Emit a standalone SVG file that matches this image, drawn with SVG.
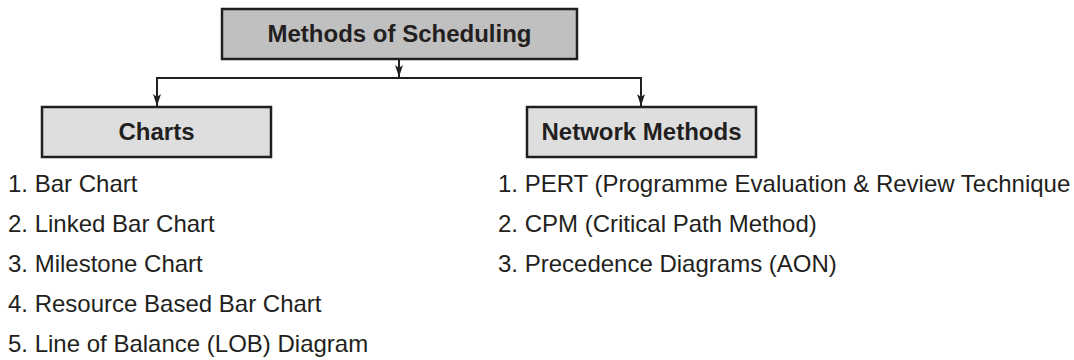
<svg xmlns="http://www.w3.org/2000/svg" width="1074" height="360" viewBox="0 0 1074 360">
<style>
.box{stroke:#231f20;stroke-width:2.5}
.top{fill:#c0c0c0}
.sub{fill:#dedede}
.title{font-family:"Liberation Sans",Arial,sans-serif;font-weight:bold;font-size:24px;fill:#231f20;text-anchor:middle}
.item{font-family:"Liberation Sans",Arial,sans-serif;font-size:24px;fill:#231f20}
.conn{fill:none;stroke:#231f20;stroke-width:2}
</style>
<defs>
<marker id="arr" viewBox="0 0 12 10" refX="12" refY="5" markerWidth="12" markerHeight="10" markerUnits="userSpaceOnUse" orient="auto">
<path d="M0,1 L3,5 L0,9 L12,5 Z" fill="#231f20"/>
</marker>
</defs>
<rect width="1074" height="360" fill="#ffffff"/>
<g id="connectors">
<line class="conn" x1="399" y1="59" x2="399" y2="77" marker-end="url(#arr)"/>
<polyline class="conn" points="157,107 157,78 641,78 641,107"/>
<line class="conn" x1="157" y1="85" x2="157" y2="106" marker-end="url(#arr)"/>
<line class="conn" x1="641" y1="85" x2="641" y2="106" marker-end="url(#arr)"/>
</g>
<g id="node-methods">
<rect class="box top" x="222" y="9" width="355" height="50"/>
<text class="title" x="399.5" y="42">Methods of Scheduling</text>
</g>
<g id="node-charts">
<rect class="box sub" x="42" y="107" width="229" height="50"/>
<text class="title" x="156.5" y="140">Charts</text>
</g>
<g id="node-network">
<rect class="box sub" x="527" y="107" width="229" height="50"/>
<text class="title" x="641.5" y="140">Network Methods</text>
</g>
<g id="charts-list">
<text class="item" x="8" y="192">1. Bar Chart</text>
<text class="item" x="8" y="232">2. Linked Bar Chart</text>
<text class="item" x="8" y="272">3. Milestone Chart</text>
<text class="item" x="8" y="312">4. Resource Based Bar Chart</text>
<text class="item" x="8" y="352">5. Line of Balance (LOB) Diagram</text>
</g>
<g id="network-list">
<text class="item" x="498" y="192">1. PERT (Programme Evaluation &amp; Review Technique</text>
<text class="item" x="498" y="232">2. CPM (Critical Path Method)</text>
<text class="item" x="498" y="272">3. Precedence Diagrams (AON)</text>
</g>
</svg>
